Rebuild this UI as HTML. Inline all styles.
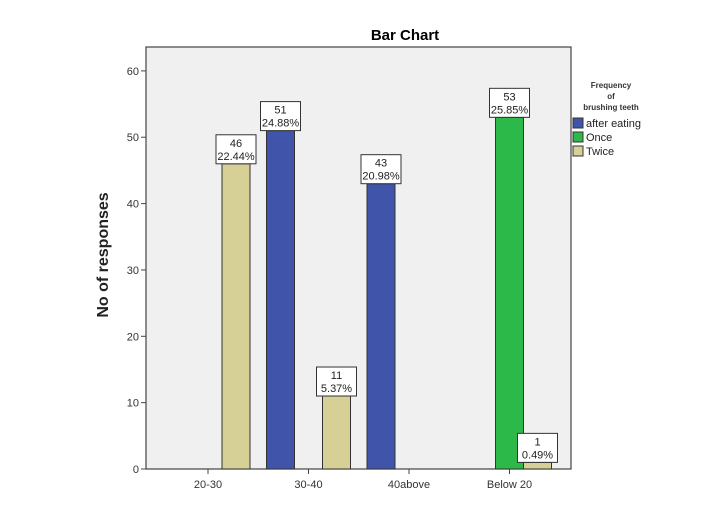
<!DOCTYPE html>
<html><head><meta charset="utf-8"><style>
body{margin:0;background:#fff;font-family:"Liberation Sans",Arial,sans-serif}
</style></head><body>
<svg id="chart" width="708" height="502" xmlns="http://www.w3.org/2000/svg" font-family="Liberation Sans, Arial, sans-serif"></svg>
<script>
const categories=["20-30","30-40","40above","Below 20"];
const seriesNames=["after eating","Once","Twice"];
const afterEating=[0,51,43,0];
const once=[0,0,0,53];
const twice=[46,11,0,1];
const percents=[["","24.88%","20.98%",""],["","","","25.85%"],["22.44%","5.37%","","0.49%"]];
const yTicks=[0,10,20,30,40,50,60];
const colors=["#4055aa","#2db84a","#d6d096"];
const series=[afterEating,once,twice];
const L=146,R=571,T=47,B=469;
const y=v=>B-v*(B-T)/63.6;
const xc=i=>208+i*100.5;
const bw=28;
const svg=document.getElementById('chart');
const NS="http://www.w3.org/2000/svg";
function mk(tag,attrs,parent){const e=document.createElementNS(NS,tag);for(const k in attrs)e.setAttribute(k,attrs[k]);(parent||svg).appendChild(e);return e;}
let bg=mk('rect',{x:L,y:T,width:R-L,height:B-T,fill:'#f0f0f0',stroke:'#444','stroke-width':1.2});


let t=mk('text',{x:405,y:40,'text-anchor':'middle','font-size':15,'font-weight':'bold'});t.textContent='Bar Chart';


let yt=mk('text',{transform:'translate(108,255) rotate(-90)','text-anchor':'middle','font-size':16,'font-weight':'bold',fill:'#222'});yt.textContent='No of responses';


yTicks.forEach(v=>{
 mk('line',{x1:L-5,x2:L,y1:y(v),y2:y(v),stroke:'#444'});
 let tx=mk('text',{x:L-7,y:y(v)+4,'text-anchor':'end','font-size':11,fill:'#333'});tx.textContent=v;
 
 
});
categories.forEach((c,i)=>{
 mk('line',{x1:xc(i),x2:xc(i),y1:B,y2:B+5,stroke:'#444'});
 let tx=mk('text',{x:xc(i),y:B+19,'text-anchor':'middle','font-size':11,fill:'#333'});tx.textContent=c;
 
 
});
series.forEach((s,si)=>{
 s.forEach((v,i)=>{
  if(!v)return;
  const x0=xc(i)-42+si*28;
  let r=mk('rect',{x:x0,y:y(v),width:bw,height:B-y(v),fill:colors[si],stroke:'#333','stroke-width':1});
  
  
  const cx=x0+bw/2, by=y(v);
  let g=mk('g',{});
  
  
  mk('rect',{x:cx-20,y:by-29,width:40,height:29,fill:'#fff',stroke:'#333','stroke-width':1},g);
  let a=mk('text',{x:cx,y:by-17,'text-anchor':'middle','font-size':11,fill:'#222'},g);a.textContent=v;
  let b=mk('text',{x:cx,y:by-4,'text-anchor':'middle','font-size':11,fill:'#222'},g);b.textContent=percents[si][i];
 });
});
let lg=mk('g',{});


["Frequency","of","brushing teeth"].forEach((s,k)=>{let tx=mk('text',{x:611,y:88+k*11,'text-anchor':'middle','font-size':8,'font-weight':'bold',fill:'#333'},lg);tx.textContent=s;});
seriesNames.forEach((n,k)=>{
 let e=mk('g',{},lg);
 
 
 mk('rect',{x:573,y:118+k*14,width:10,height:10,fill:colors[k],stroke:'#333'},e);
 let tx=mk('text',{x:586,y:127+k*14,'font-size':11,fill:'#222'},e);tx.textContent=n;
});
</script>
</body></html>
